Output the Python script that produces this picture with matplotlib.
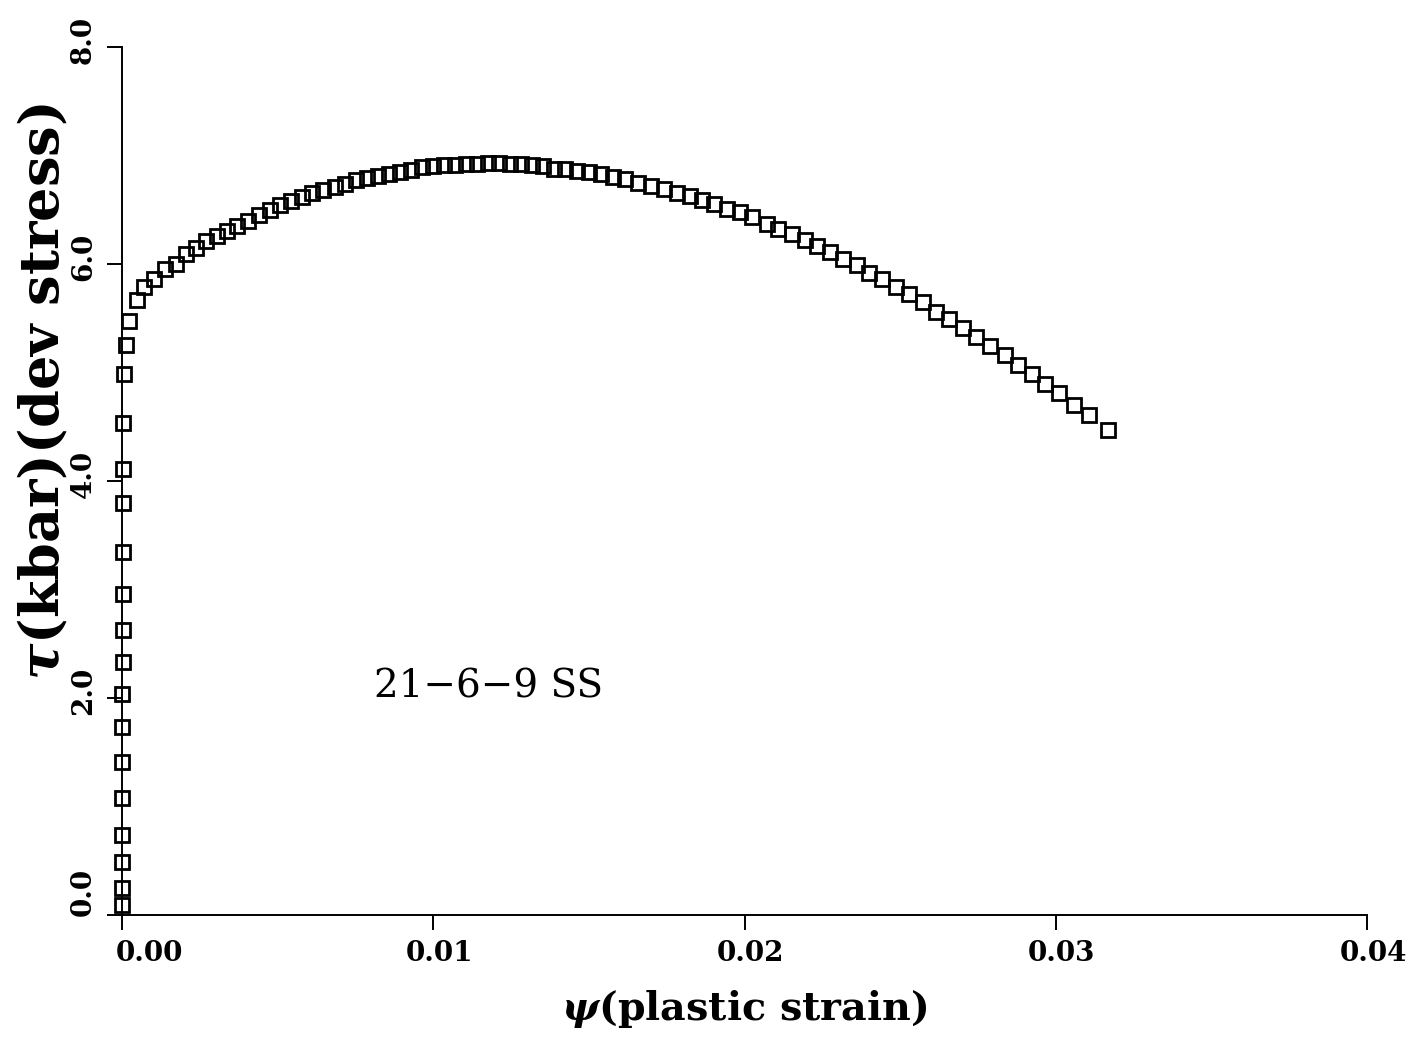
import matplotlib
matplotlib.use("Agg")
import matplotlib.pyplot as plt
from matplotlib.transforms import ScaledTranslation

plt.rcParams['font.family'] = ['DejaVu Serif']
plt.rcParams['mathtext.fontset'] = 'dejavuserif'

# Plastic strain (psi) and deviatoric stress (tau, kbar) for 21-6-9 stainless steel
strain = [
    0.0, 0.0, 0.0, 0.0, 0.00001, 0.00001, 0.00001, 0.00001, 0.00002, 0.00002,
    0.00002, 0.00002, 0.00003, 0.00003, 0.00004, 0.00008, 0.00012, 0.00024,
    0.00048, 0.00070, 0.00104, 0.00139, 0.00174, 0.00206, 0.00237, 0.00269, 0.00304, 0.00336,
    0.00371, 0.00406, 0.00441, 0.00475, 0.00507, 0.00542, 0.00577, 0.00612, 0.00647, 0.00683,
    0.00718, 0.00753, 0.00788, 0.00823, 0.00858, 0.00893, 0.00928, 0.00964, 0.00999, 0.01034,
    0.01069, 0.01104, 0.01140, 0.01175, 0.01210, 0.01246, 0.01281, 0.01316, 0.01352, 0.01387,
    0.01422, 0.01461, 0.01500, 0.01538, 0.01577, 0.01615, 0.01657, 0.01699, 0.01741, 0.01783,
    0.01825, 0.01864, 0.01903, 0.01945, 0.01986, 0.02025, 0.02071, 0.02109, 0.02151, 0.02193,
    0.02232, 0.02274, 0.02317, 0.02362, 0.02401, 0.02443, 0.02488, 0.02527, 0.02573, 0.02615,
    0.02657, 0.02703, 0.02745, 0.02790, 0.02836, 0.02878, 0.02924, 0.02966, 0.03011, 0.03057,
    0.03106, 0.03168,
]
stress = [
    0.09, 0.25, 0.49, 0.74, 1.08, 1.41, 1.73, 2.04, 2.33, 2.63,
    2.96, 3.35, 3.80, 4.11, 4.53, 4.99, 5.25, 5.47,
    5.67, 5.79, 5.86, 5.95, 6.00, 6.09, 6.15, 6.21, 6.26, 6.30,
    6.35, 6.40, 6.45, 6.50, 6.54, 6.58, 6.62, 6.65, 6.68, 6.71,
    6.74, 6.77, 6.79, 6.81, 6.83, 6.85, 6.87, 6.89, 6.90, 6.91,
    6.91, 6.92, 6.92, 6.93, 6.93, 6.92, 6.92, 6.91, 6.90, 6.88,
    6.88, 6.86, 6.85, 6.83, 6.80, 6.78, 6.75, 6.72, 6.69, 6.65,
    6.63, 6.59, 6.55, 6.51, 6.48, 6.43, 6.37, 6.32, 6.28, 6.22,
    6.17, 6.11, 6.05, 5.99, 5.92, 5.86, 5.79, 5.72, 5.65, 5.56,
    5.49, 5.41, 5.33, 5.24, 5.16, 5.07, 4.99, 4.89, 4.81, 4.70,
    4.61, 4.47,
]

x_ticks = [0.0, 0.01, 0.02, 0.03, 0.04]
x_tick_labels = ['0.00', '0.01', '0.02', '0.03', '0.04']
y_ticks = [0.0, 2.0, 4.0, 6.0, 8.0]
y_tick_labels = ['0.0', '2.0', '4.0', '6.0', '8.0']
material = '21\u22126\u22129 SS'
x_title = r'$\boldsymbol{\psi}$(plastic strain)'
y_title = r'$\boldsymbol{\tau}$(kbar)(dev stress)'

fig = plt.figure(figsize=(14.07, 10.42), dpi=100)
ax = fig.add_axes([0.0867, 0.1219, 0.8849, 0.833])

ax.plot(strain, stress, linestyle='none', marker='s', markersize=10,
        markerfacecolor='none', markeredgecolor='black', markeredgewidth=2.0,
        clip_on=False, zorder=3)

ax.set_xlim(0.0, 0.04)
ax.set_ylim(0.0, 8.0)
ax.set_xticks(x_ticks)
ax.set_xticklabels(x_tick_labels, fontweight='bold')
ax.set_yticks(y_ticks)
ax.set_yticklabels(y_tick_labels, fontweight='bold')

for side in ('top', 'right'):
    ax.spines[side].set_visible(False)
for side in ('left', 'bottom'):
    ax.spines[side].set_linewidth(1.4)
    ax.spines[side].set_color('black')

ax.tick_params(direction='out', length=11, width=1.4, labelsize=20, colors='black')
ax.tick_params(axis='x', pad=7)
ax.tick_params(axis='y', labelrotation=90, pad=7)
for lab in ax.get_yticklabels():
    lab.set_verticalalignment('center')

# nudge tick labels away from the corner
for i, lab in enumerate(ax.xaxis.get_majorticklabels()):
    dx = 0.27 if i == 0 else 0.06
    lab.set_transform(lab.get_transform() + ScaledTranslation(dx, 0, fig.dpi_scale_trans))
for i, lab in enumerate(ax.yaxis.get_majorticklabels()):
    dy = 0.23 if i == 0 else 0.07
    lab.set_transform(lab.get_transform() + ScaledTranslation(0, dy, fig.dpi_scale_trans))

ax.set_xlabel(x_title, fontsize=28.5, fontweight='bold', labelpad=15)
ax.set_ylabel(y_title, fontsize=39, fontweight='bold')
ax.yaxis.set_label_coords(-0.0425, 0.6025)

ax.text(0.0081, 2.1, material, fontsize=28, ha='left', va='center')

fig.savefig('out.png', dpi=100, facecolor='white')
